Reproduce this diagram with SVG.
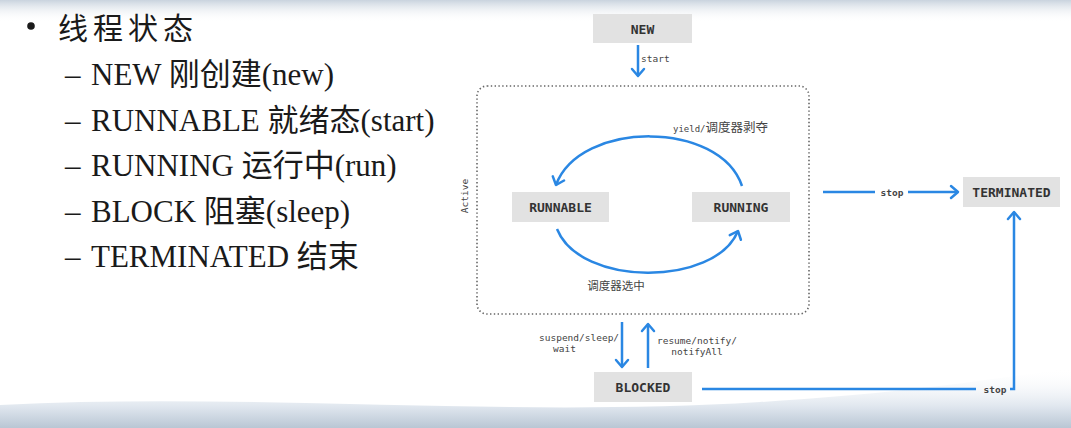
<svg xmlns="http://www.w3.org/2000/svg" width="1071" height="428" viewBox="0 0 1071 428">
<style>
.lst{font-family:"Liberation Serif","Noto Sans CJK SC",serif;font-size:31px;fill:#1a1a1a}
.ttl{font-family:"Noto Sans CJK SC",sans-serif;font-size:30px;fill:#1a1a1a;letter-spacing:5px}
.box{fill:#e2e2e2}
.bt{font-family:"DejaVu Sans Mono",monospace;font-size:13px;font-weight:bold;fill:#333;text-anchor:middle}
.lb{font-family:"DejaVu Sans Mono","Noto Sans CJK SC",monospace;font-size:9.5px;fill:#444}
.cj{font-family:"Noto Sans CJK SC",sans-serif;fill:#444}
.cn{fill:none;stroke:#2a87e3;stroke-width:2.5}
</style>
<defs>
<linearGradient id="gtop" x1="0" y1="0" x2="0" y2="1">
<stop offset="0" stop-color="#c9d3de"/>
<stop offset="1" stop-color="#ffffff" stop-opacity="0"/>
</linearGradient>
<linearGradient id="gbot" x1="0" y1="0" x2="0" y2="1">
<stop offset="0" stop-color="#ffffff" stop-opacity="0"/>
<stop offset="0.65" stop-color="#dfe6ee"/>
<stop offset="1" stop-color="#b9c6d4"/>
</linearGradient>
<marker id="ah" markerUnits="userSpaceOnUse" markerWidth="20" markerHeight="20" viewBox="-10 -10 20 20" refX="0" refY="0" orient="auto">
<path d="M-7,-6 L0,0 L-7,6" fill="none" stroke="#2a87e3" stroke-width="2.5" stroke-linecap="round" stroke-linejoin="round"/>
</marker>
</defs>
<rect width="1071" height="428" fill="#ffffff"/>
<rect width="1071" height="22" fill="url(#gtop)"/>
<path d="M0,405 C250,392 500,418 760,402 C900,394 1000,378 1071,368 L1071,428 L0,428 Z" fill="url(#gbot)"/>
<g id="title">
<circle cx="31" cy="26" r="3.8" fill="#1a1a1a"/>
<text class="ttl" x="58" y="39">线程状态</text>
</g>
<g id="list">
<text class="lst" x="65" y="85">–</text><text class="lst" x="91" y="85">NEW 刚创建(new)</text>
<text class="lst" x="65" y="130.5">–</text><text class="lst" x="91" y="130.5">RUNNABLE 就绪态(start)</text>
<text class="lst" x="65" y="176">–</text><text class="lst" x="91" y="176">RUNNING 运行中(run)</text>
<text class="lst" x="65" y="221.5">–</text><text class="lst" x="91" y="221.5">BLOCK 阻塞(sleep)</text>
<text class="lst" x="65" y="267">–</text><text class="lst" x="91" y="267">TERMINATED 结束</text>
</g>
<g id="active">
<rect x="477" y="86" width="332" height="228" rx="10" fill="none" stroke="#666" stroke-width="1.6" stroke-dasharray="1.4 2.4"/>
<text class="lb" transform="translate(468,196) rotate(-90)" text-anchor="middle" font-size="9">Active</text>
</g>
<g id="new"><rect class="box" x="593" y="14" width="99" height="29"/><text class="bt" x="642.5" y="33.5">NEW</text></g>
<g id="runnable"><rect class="box" x="512" y="192" width="97" height="30"/><text class="bt" x="560.5" y="211.5">RUNNABLE</text></g>
<g id="running"><rect class="box" x="692" y="192" width="98" height="30"/><text class="bt" x="741" y="211.5">RUNNING</text></g>
<g id="terminated"><rect class="box" x="963" y="177" width="97" height="30"/><text class="bt" x="1011.5" y="196.5">TERMINATED</text></g>
<g id="blocked"><rect class="box" x="594" y="372" width="98" height="30"/><text class="bt" x="643" y="391.5">BLOCKED</text></g>
<g id="connectors">
<path class="cn" d="M638,45 L638,76" marker-end="url(#ah)"/>
<path class="cn" d="M742,186 C720,120 580,120 556,185" marker-end="url(#ah)"/>
<path class="cn" d="M557,229 C580,287 715,287 738,231" marker-end="url(#ah)"/>
<path class="cn" d="M823,192 L875,192"/>
<path class="cn" d="M908,192 L958,192" marker-end="url(#ah)"/>
<path class="cn" d="M622,322 L622,367" marker-end="url(#ah)"/>
<path class="cn" d="M648,368 L648,324" marker-end="url(#ah)"/>
<path class="cn" d="M702,389 L976,389"/>
<path class="cn" d="M1010,389 L1014,389 L1014,212" marker-end="url(#ah)"/>
<text class="lb" x="641" y="62" font-size="10.5">start</text>
<text class="lb" x="673" y="132"><tspan font-size="9">yield/</tspan><tspan class="cj" font-size="12.5">调度器剥夺</tspan></text>
<text class="cj" x="616" y="290" font-size="11.5" text-anchor="middle">调度器选中</text>
<text class="lb" x="892" y="195.5" font-size="11" font-weight="bold" text-anchor="middle">stop</text>
<text class="lb" x="995" y="392.5" font-size="11" font-weight="bold" text-anchor="middle">stop</text>
<text class="lb" x="539" y="341">suspend/sleep/</text>
<text class="lb" x="553" y="352">wait</text>
<text class="lb" x="697" y="344" text-anchor="middle">resume/notify/</text>
<text class="lb" x="697" y="355" text-anchor="middle">notifyAll</text>
</g>
</svg>
